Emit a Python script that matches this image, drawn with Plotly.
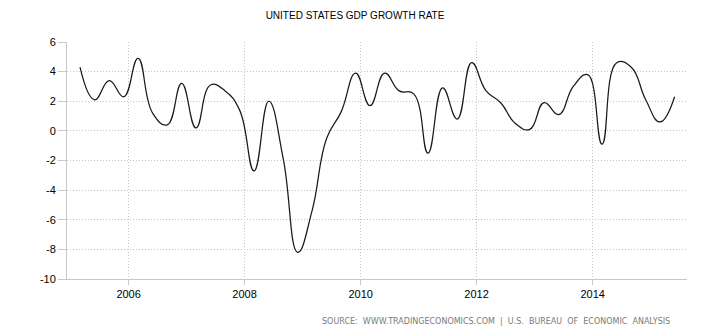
import plotly.graph_objects as go

dates = [
    "2005-03-01", "2005-06-01", "2005-09-01", "2005-12-01",
    "2006-03-01", "2006-06-01", "2006-09-01", "2006-12-01",
    "2007-03-01", "2007-06-01", "2007-09-01", "2007-12-01",
    "2008-03-01", "2008-06-01", "2008-09-01", "2008-12-01",
    "2009-03-01", "2009-06-01", "2009-09-01", "2009-12-01",
    "2010-03-01", "2010-06-01", "2010-09-01", "2010-12-01",
    "2011-03-01", "2011-06-01", "2011-09-01", "2011-12-01",
    "2012-03-01", "2012-06-01", "2012-09-01", "2012-12-01",
    "2013-03-01", "2013-06-01", "2013-09-01", "2013-12-01",
    "2014-03-01", "2014-06-01", "2014-09-01", "2014-12-01",
    "2015-03-01", "2015-06-01",
]
gdp_growth = [
    4.3, 2.1, 3.4, 2.3,
    4.9, 1.2, 0.4, 3.2,
    0.2, 3.1, 2.7, 1.4,
    -2.7, 2.0, -1.9, -8.2,
    -5.4, -0.5, 1.3, 3.9,
    1.7, 3.9, 2.7, 2.5,
    -1.5, 2.9, 0.8, 4.6,
    2.7, 1.9, 0.5, 0.1,
    1.9, 1.1, 3.0, 3.8,
    -0.9, 4.6, 4.3, 2.1,
    0.6, 2.3,
]
x_ticks = ["2006-01-01", "2008-01-01", "2010-01-01", "2012-01-01", "2014-01-01"]
x_tick_labels = ["2006", "2008", "2010", "2012", "2014"]
y_ticks = [6, 4, 2, 0, -2, -4, -6, -8, -10]
y_tick_labels = ["6", "4", "2", "0", "-2", "-4", "-6", "-8", "-10"]

title_text = "UNITED STATES GDP GROWTH RATE"
source_text = "SOURCE:  WWW.TRADINGECONOMICS.COM  |  U.S.  BUREAU  OF  ECONOMIC  ANALYSIS"

fig = go.Figure()
fig.add_trace(go.Scatter(
    x=dates, y=gdp_growth, mode="lines",
    line=dict(color="#1a1a1a", width=1.25, shape="spline", smoothing=1.3),
    hoverinfo="x+y", showlegend=False,
))

grid = dict(showgrid=True, gridcolor="#c4c4c4", griddash="1px,2px", gridwidth=1,
            showline=True, linecolor="#c8c8c8", linewidth=1,
            zeroline=False, tickfont=dict(size=11, color="#000"))

fig.update_layout(
    width=710, height=336,
    margin=dict(l=67, r=23, t=42, b=57),
    paper_bgcolor="white", plot_bgcolor="white",
    font=dict(family="Liberation Sans, Arial, sans-serif", size=11, color="#000"),
    title=dict(
        text=title_text, x=0.5, xanchor="center", y=1 - 15 / 336, yanchor="middle",
        font=dict(family="Liberation Sans, Arial, sans-serif", size=10, color="#000"),
    ),
    xaxis=dict(
        type="date", range=["2004-12-09", "2015-08-18"],
        tickvals=x_ticks, ticktext=x_tick_labels,
        ticks="outside", ticklen=5, tickcolor="#c8c8c8",
        **grid,
    ),
    yaxis=dict(
        range=[-10, 6], tickvals=y_ticks, ticktext=y_tick_labels,
        ticks="outside", ticklen=8, tickcolor="#c8c8c8",
        **grid,
    ),
)

fig.add_annotation(
    text=source_text, xref="paper", yref="paper",
    x=(496 - 67) / (710 - 67 - 23), y=-(321 - 279) / (336 - 42 - 57),
    xanchor="center", yanchor="middle", showarrow=False,
    font=dict(family="DejaVu Sans, Verdana, sans-serif", size=8, color="#7a7a7a"),
)

fig.write_html("out.html")
